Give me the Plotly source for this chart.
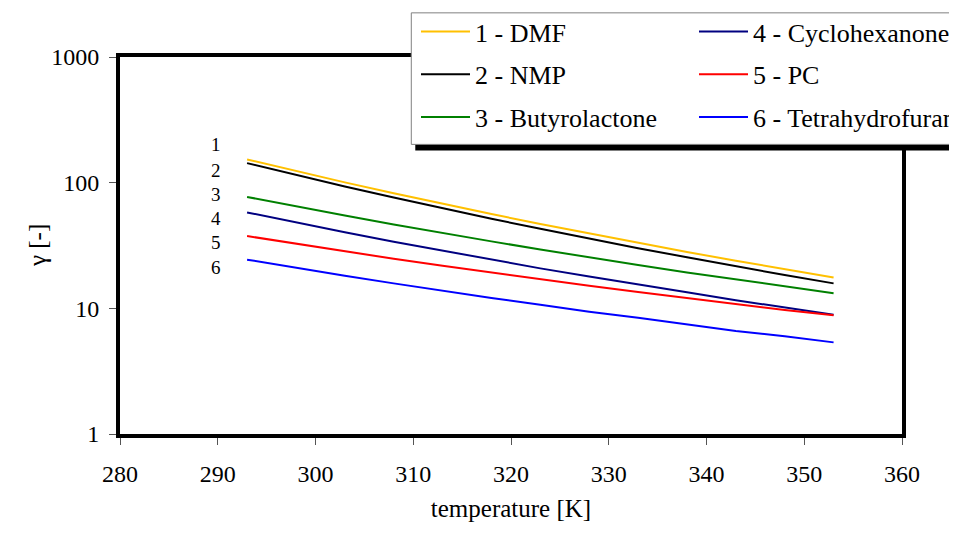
import numpy as np
import plotly.graph_objects as go

# temperature grid [K] and activity coefficients
temperature = [293, 298, 303, 308, 313, 318, 323, 328, 333, 338, 343, 348, 353]
dmf = [153, 123.6, 100.5, 82.3, 67.9, 56.3, 46.9, 39.4, 33.2, 28.1, 23.9, 20.5, 17.6]
nmp = [143, 115, 93.2, 76.1, 62.5, 51.6, 42.9, 35.9, 30.1, 25.5, 21.6, 18.4, 15.8]
butyrolactone = [77, 64.7, 54.7, 46.5, 39.7, 34.1, 29.4, 25.4, 22.1, 19.3, 17.0, 14.9, 13.2]
cyclohexanone = [58, 48.2, 40.3, 33.9, 28.7, 24.4, 20.8, 17.9, 15.4, 13.4, 11.6, 10.2, 8.9]
pc = [37.6, 32.6, 28.4, 24.8, 21.8, 19.2, 17.0, 15.1, 13.5, 12.1, 10.8, 9.7, 8.8]
thf = [24.4, 21.0, 18.2, 15.8, 13.8, 12.1, 10.7, 9.4, 8.4, 7.4, 6.6, 6.0, 5.36]

series_names = ["1 - DMF", "2 - NMP", "3 - Butyrolactone",
                "4 - Cyclohexanone", "5 - PC", "6 - Tetrahydrofuran"]
series_values = [dmf, nmp, butyrolactone, cyclohexanone, pc, thf]
series_colors = ["#FFC000", "#000000", "#008000", "#000080", "#FF0000", "#0000FF"]

y_tickvals = [1, 10, 100, 1000]
y_ticktext = ["1", "10", "100", "1000"]

# curve number labels left of the lines
curve_labels = ["1", "2", "3", "4", "5", "6"]
curve_label_y = [200, 125, 80.5, 52, 33.2, 21.1]

FONT = "Liberation Serif, Times New Roman, serif"

fig = go.Figure()
for i, (name, vals, col) in enumerate(zip(series_names, series_values, series_colors)):
    fig.add_trace(go.Scatter(
        x=temperature, y=vals, mode="lines", name=name,
        line=dict(color=col, width=2),
        legend="legend" if i < 3 else "legend2",
        legendgroup=name,
    ))

for lab, yv in zip(curve_labels, curve_label_y):
    fig.add_annotation(x=289.8, y=np.log10(yv), text=lab, showarrow=False,
                       font=dict(family=FONT, size=19, color="black"))

# y axis title (drawn as annotation, axis title misbehaves with fixed margins)
fig.add_annotation(xref="paper", yref="paper", x=0, y=0.5, xshift=-98,
                   text="γ [-]", textangle=-90, showarrow=False,
                   font=dict(family=FONT, size=25, color="black"))

# legend frame with drop shadow (runs off the right edge like the original)
fig.add_shape(type="rect", xref="paper", yref="paper", layer="above",
              x0=0.3776, x1=1.12, y0=0.7523, y1=1.1012,
              fillcolor="black", line=dict(width=0))
fig.add_shape(type="rect", xref="paper", yref="paper", layer="above",
              x0=0.3725, x1=1.11, y0=0.7682, y1=1.1171,
              fillcolor="white", line=dict(color="#808080", width=1))

legend_style = dict(
    bgcolor="rgba(0,0,0,0)", borderwidth=0,
    font=dict(family=FONT, size=26, color="black"),
    xref="container", yref="container", yanchor="top", xanchor="left",
    tracegroupgap=6, itemwidth=49,
)

fig.update_layout(
    width=957, height=536,
    paper_bgcolor="white", plot_bgcolor="white",
    margin=dict(l=111.5, r=63, t=48.5, b=110, autoexpand=False),
    font=dict(family=FONT, size=24, color="black"),
    showlegend=True,
    legend=dict(x=408 / 957, y=1 + 5 / 536, **legend_style),
    legend2=dict(x=686 / 957, y=1 + 5 / 536, **legend_style),
    xaxis=dict(
        range=[280, 360], dtick=10, showgrid=False, zeroline=False,
        showline=True, mirror=True, linecolor="black", linewidth=4,
        ticks="outside", ticklen=7, tickwidth=1, tickcolor="#555",
        ticklabelstandoff=8,
        tickfont=dict(family=FONT, size=24),
        title=dict(text="temperature [K]", standoff=15, font=dict(family=FONT, size=25)),
    ),
    yaxis=dict(
        type="log", range=[0, 3], tickvals=y_tickvals, ticktext=y_ticktext,
        showgrid=False, zeroline=False,
        showline=True, mirror=True, linecolor="black", linewidth=4,
        ticks="outside", ticklen=7, tickwidth=1, tickcolor="#555",
        ticklabelstandoff=5,
        tickfont=dict(family=FONT, size=24),
    ),
)

fig.write_html("out.html")
